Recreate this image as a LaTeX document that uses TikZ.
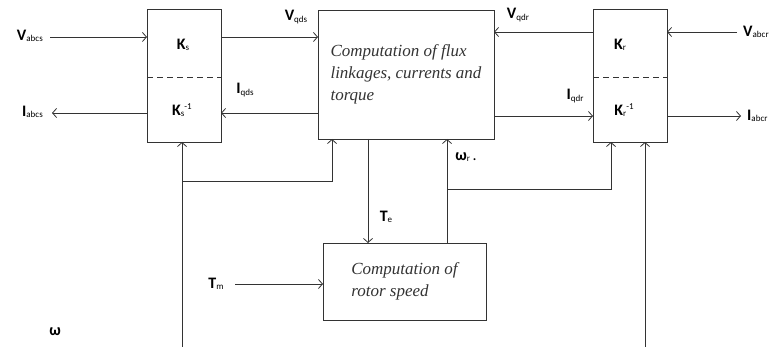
\documentclass[tikz,border=0pt]{standalone}
\usepackage{fontspec}
\setmainfont{Carlito}
\newfontfamily\boxfont{Liberation Serif}
\usetikzlibrary{arrows.meta}
\newcommand{\sigl}[2]{{\bfseries #1}\raisebox{-1.5pt}{\mdseries\fontsize{9}{9}\selectfont #2}}
\newcommand{\sigli}[3]{{\bfseries #1}\raisebox{-1.5pt}{\mdseries\fontsize{9}{9}\selectfont #2}\raisebox{6pt}{\mdseries\fontsize{9}{9}\selectfont #3}}

\begin{document}
\begin{tikzpicture}[x=1pt, y=-1pt,
    blk/.style={draw=black!80, line width=0.9pt, inner sep=0pt, outer sep=0pt},
    txt/.style={align=left, text=black!80, font=\boxfont\fontsize{17}{22}\selectfont\itshape},
    lbl/.style={inner sep=0pt, font=\fontsize{16}{18}\selectfont},
    arr/.style={-{Straight Barb[length=4pt, width=9pt]}, draw=black!80, line width=0.8pt}
]
\useasboundingbox (0,0) rectangle (770,347);

\node[blk, minimum width=74pt, minimum height=133pt] (ks) at (184,75.5) {};
\node[blk, minimum width=74pt, minimum height=133pt] (kr) at (630,75.5) {};
\node[blk, txt, minimum width=176pt, minimum height=129pt] (flux) at (406,74.5) {Computation of flux\\linkages, currents and\\torque};
\node[blk, txt, minimum width=163pt, minimum height=77pt] (rotor) at (404.5,281.5) {Computation of\\rotor speed};

\draw[dashed, dash pattern=on 6pt off 4pt, draw=black!80, line width=0.8pt] (ks.west |- 0,77) -- (ks.east |- 0,77);
\draw[dashed, dash pattern=on 6pt off 4pt, draw=black!80, line width=0.8pt] (kr.west |- 0,77) -- (kr.east |- 0,77);

\node[lbl] (ksl) at (183,45) {\sigl{K}{s}};
\node[lbl] (ksi) at (182,110) {\sigli{K}{s}{-1}};
\node[lbl] (krl) at (620,45) {\sigl{K}{r}};
\node[lbl] (kri) at (624,110) {\sigli{K}{r}{-1}};

\node[lbl, anchor=east] (vabcs) at (43,36) {\sigl{V}{abcs}};
\node[lbl, anchor=east] (iabcs) at (43,112) {\sigl{I}{abcs}};
\node[lbl] (vqds) at (296,17) {\sigl{V}{qds}};
\node[lbl] (iqds) at (245,90) {\sigl{I}{qds}};
\node[lbl] (vqdr) at (518,15) {\sigl{V}{qdr}};
\node[lbl] (iqdr) at (575,96) {\sigl{I}{qdr}};
\node[lbl, anchor=west] (vabcr) at (743,32) {\sigl{V}{abcr}};
\node[lbl, anchor=west] (iabcr) at (747,116) {\sigl{I}{abcr}};
\node[lbl] (te) at (386,217) {\sigl{T}{e}};
\node[lbl] (tm) at (216,284) {\sigl{T}{m}};
\node[lbl] (wr) at (466,157) {\sigl{ω}{r}\,.};
\node[lbl] (w) at (55,332) {\bfseries ω};

\coordinate (vsin) at (50,37);
\coordinate (isout) at (52,113);
\coordinate (vrin) at (737,32);
\coordinate (irout) at (741,116);
\coordinate (sbot) at (182,347);
\coordinate (sj) at (182,181);
\coordinate (rj) at (447,189);
\coordinate (rbot) at (645,347);
\coordinate (tmin) at (235,284);

\draw[arr] (vsin) -- (vsin -| ks.west);
\draw[arr] (isout -| ks.west) -- (isout);
\draw[arr] (ks.east |- vsin) -- (flux.west |- vsin);
\draw[arr] (flux.west |- isout) -- (ks.east |- isout);
\draw[arr] (kr.west |- vrin) -- (flux.east |- vrin);
\draw[arr] (flux.east |- irout) -- (kr.west |- irout);
\draw[arr] (vrin) -- (vrin -| kr.east);
\draw[arr] (kr.east |- irout) -- (irout);

\draw[arr] (sbot) -- (sbot |- ks.south);
\draw[arr] (sj) -| (flux.south -| 332,0);
\draw[arr] (flux.south -| 368,0) -- (rotor.north -| 368,0);
\draw[arr] (rotor.north -| rj) -- (flux.south -| rj);
\draw[arr] (rj) -| (kr.south -| 611,0);
\draw[arr] (rbot) -- (rbot |- kr.south);
\draw[arr] (tmin) -- (tmin -| rotor.west);
\end{tikzpicture}
\end{document}
